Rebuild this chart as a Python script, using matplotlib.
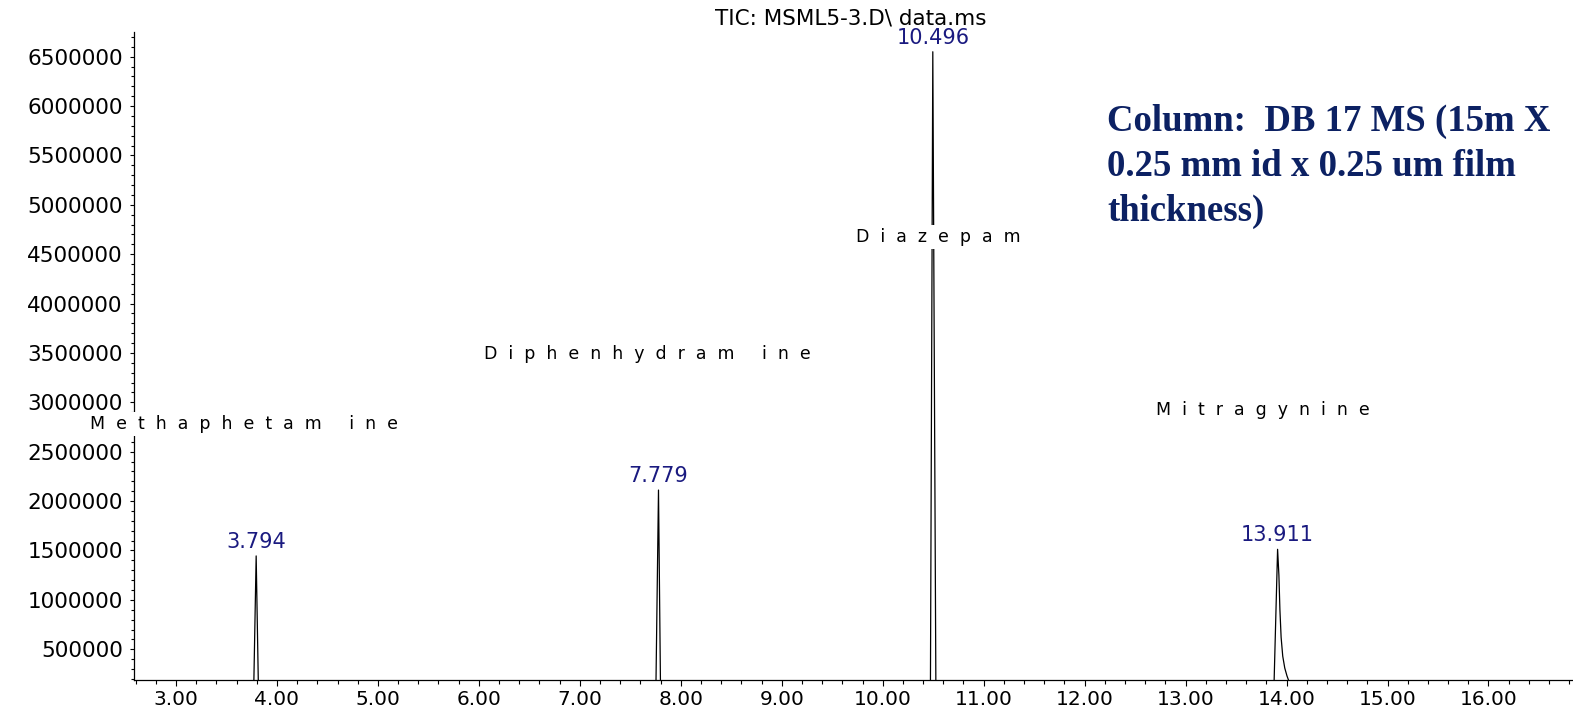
import matplotlib
matplotlib.use("Agg")
import matplotlib.pyplot as plt
from matplotlib.ticker import MultipleLocator, FormatStrFormatter

# ---- data ----
# chromatogram trace (retention time in min, abundance)
trace_time = [2.58, 3.768, 3.794, 3.818,
              7.752, 7.779, 7.800,
              10.472, 10.496, 10.527,
              13.872, 13.911, 13.924, 13.934, 13.946, 13.962, 13.982, 14.004, 14.030, 14.080,
              16.84]
trace_abund = [0, 0, 1445000, 0,
               0, 2112000, 0,
               0, 6550000, 0,
               0, 1512000, 1250000, 900000, 620000, 430000, 310000, 230000, 158000, 0,
               0]

peak_rt = [3.794, 7.779, 10.496, 13.911]
peak_height = [1445000, 2112000, 6550000, 1512000]
peak_labels = ["3.794", "7.779", "10.496", "13.911"]

compound_names = ["Methaphetam ine", "Diphenhydram ine", "Diazepam", "Mitragynine"]
compound_x = [3.669, 7.670, 10.553, 13.762]
compound_y = [2781000, 3489700, 4674000, 2922600]

title_text = "TIC: MSML5-3.D\\ data.ms"
column_text = "Column:  DB 17 MS (15m X\n0.25 mm id x 0.25 um film\nthickness)"

# ---- figure ----
W, H = 1573, 708
fig = plt.figure(figsize=(W / 100, H / 100), dpi=100)
ax = fig.add_axes([134 / W, 1 - 680 / H, (W - 134) / W, (680 - 31.7) / H])

ax.plot(trace_time, trace_abund, color="black", lw=0.9, zorder=2)

ax.set_xlim(2.584, 16.837)
ax.set_ylim(188700, 6753000)

for s in ("top", "right"):
    ax.spines[s].set_visible(False)
for s in ("left", "bottom"):
    ax.spines[s].set_linewidth(0.9)

ax.xaxis.set_major_locator(MultipleLocator(1.0))
ax.xaxis.set_minor_locator(MultipleLocator(0.2))
ax.xaxis.set_major_formatter(FormatStrFormatter("%.2f"))
ax.yaxis.set_major_locator(MultipleLocator(500000))
ax.yaxis.set_minor_locator(MultipleLocator(100000))
ax.yaxis.set_major_formatter(FormatStrFormatter("%d"))

ax.tick_params(axis="x", which="major", length=4.5, width=0.8, direction="out",
               pad=2.5, labelsize=14.5)
ax.tick_params(axis="x", which="minor", length=3, width=0.8, direction="out")
ax.tick_params(axis="y", which="major", length=3, width=0.8, direction="out",
               pad=5, labelsize=15.5)
ax.tick_params(axis="y", which="minor", length=2, width=0.8, direction="out")
for lab in ax.get_xticklabels() + ax.get_yticklabels():
    lab.set_fontfamily("DejaVu Sans")

# peak retention-time labels
for rt, h, lab in zip(peak_rt, peak_height, peak_labels):
    ax.annotate(lab, xy=(rt, h), xytext=(0, 3), textcoords="offset points",
                ha="center", va="bottom", color="#1a1a80", fontsize=15,
                family="DejaVu Sans", annotation_clip=False)

# compound names (letter-spaced, white background)
def spaced(name):
    return "  ".join(name)

for name, x, y in zip(compound_names, compound_x, compound_y):
    ax.text(x, y, spaced(name), ha="center", va="center", fontsize=12.5,
            family="DejaVu Sans", color="black", zorder=5, clip_on=False,
            bbox=dict(facecolor="white", edgecolor="none", pad=2))

fig.text(851 / W, 1 - 18 / H, title_text, ha="center", va="center",
         fontsize=15.5, family="DejaVu Sans", color="black")

fig.text(1107 / W, 1 - 104 / H, column_text, ha="left", va="top",
         fontsize=26.5, family="Liberation Serif", fontweight="bold",
         color="#0c2163", linespacing=1.36)

fig.savefig("out.png", dpi=100)
